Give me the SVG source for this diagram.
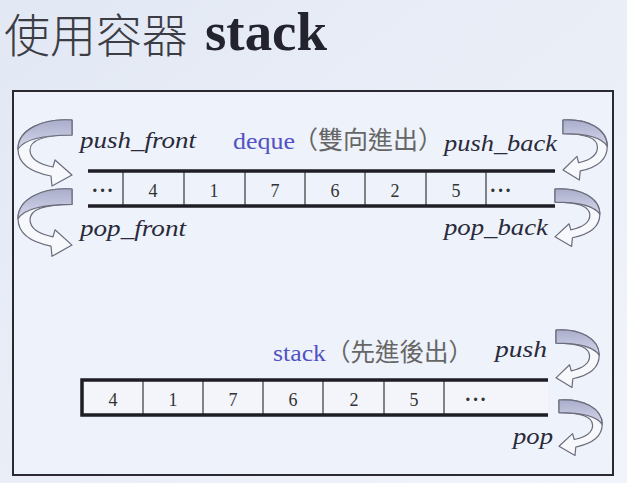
<svg xmlns="http://www.w3.org/2000/svg" xmlns:xlink="http://www.w3.org/1999/xlink" width="627" height="483" viewBox="0 0 627 483">
<defs>
<linearGradient id="bg" x1="0" y1="0" x2="1" y2="1">
<stop offset="0" stop-color="#e2e8f4"/>
<stop offset="1" stop-color="#f1f4fa"/>
</linearGradient>
<linearGradient id="face" x1="0" y1="0" x2="0" y2="1">
<stop offset="0" stop-color="#a9adcb"/>
<stop offset="1" stop-color="#d6d8ea"/>
</linearGradient>
<g id="ribbon">
<path d="M0,0 C-30,-2 -54,10 -54,29 C-54,43 -42,52 -21,56 L-20,66 L0,55 L-17,40 L-19,47 C-34,44 -42,38 -42,30 C-42,20 -28,15 0,15 Z" fill="#f7f8fc" stroke="#6b6c7c" stroke-width="1.2" vector-effect="non-scaling-stroke" stroke-linejoin="round"/>
<path d="M0,0 C-30,-2 -54,10 -54,29 C-48,20 -30,15 0,15 Z" fill="url(#face)" stroke="#6b6c7c" stroke-width="1.2" vector-effect="non-scaling-stroke" stroke-linejoin="round"/>
</g>
</defs>
<style>
.lbl{font-family:"Liberation Serif","Times New Roman",serif;font-style:italic;font-size:23px;fill:#2a2a3a}
.num{font-family:"Liberation Serif","Times New Roman",serif;font-size:18px;fill:#333;text-anchor:middle}
.dots{font-family:"Liberation Serif","Times New Roman",serif;font-size:20px;font-weight:bold;fill:#333;text-anchor:middle;letter-spacing:1px}
.name{font-family:"Liberation Serif","Times New Roman",serif;font-size:23px;fill:#5252c4}
.cjk{font-family:"Noto Sans CJK TC","Noto Sans CJK SC",sans-serif;fill:#666}
.rail{stroke:#1e1e24;stroke-width:3.5;fill:none}
.div{stroke:#444;stroke-width:1.3}
</style>
<rect x="0" y="0" width="627" height="483" fill="url(#bg)"/>
<g id="title">
<text x="4" y="52" font-family="'Noto Sans CJK TC','Noto Sans CJK SC',sans-serif" font-size="46" font-weight="300" fill="#3c3c44">使用容器</text>
<text x="205" y="50" font-family="'Liberation Serif','Times New Roman',serif" font-size="54" font-weight="bold" fill="#23232e" textLength="122" lengthAdjust="spacingAndGlyphs">stack</text>
</g>
<g id="frame">
<rect x="13" y="91" width="600" height="384" fill="#eef2fa" stroke="#2a2a30" stroke-width="2"/>
</g>
<g id="deque">
<rect x="88" y="171" width="467" height="35" fill="#eef2fa"/>
<line class="div" x1="123" y1="171" x2="123" y2="206"/>
<line class="div" x1="184" y1="171" x2="184" y2="206"/>
<line class="div" x1="245" y1="171" x2="245" y2="206"/>
<line class="div" x1="305" y1="171" x2="305" y2="206"/>
<line class="div" x1="365" y1="171" x2="365" y2="206"/>
<line class="div" x1="426" y1="171" x2="426" y2="206"/>
<line class="div" x1="486" y1="171" x2="486" y2="206"/>
<line class="rail" x1="88" y1="171" x2="555" y2="171"/>
<line class="rail" x1="88" y1="206" x2="555" y2="206"/>
<text class="dots" x="103" y="197">···</text>
<text class="num" x="153" y="197">4</text>
<text class="num" x="214" y="197">1</text>
<text class="num" x="275" y="197">7</text>
<text class="num" x="335" y="197">6</text>
<text class="num" x="395" y="197">2</text>
<text class="num" x="456" y="197">5</text>
<text class="dots" x="501" y="197">···</text>
<text x="233" y="149"><tspan class="name" textLength="62" lengthAdjust="spacingAndGlyphs">deque</tspan><tspan class="cjk" font-size="25" x="293" y="149">（雙向進出）</tspan></text>
</g>
<g id="stack">
<rect x="82" y="380" width="466" height="35" fill="#f3f5fb"/>
<line class="div" x1="143" y1="380" x2="143" y2="415"/>
<line class="div" x1="203" y1="380" x2="203" y2="415"/>
<line class="div" x1="263" y1="380" x2="263" y2="415"/>
<line class="div" x1="323" y1="380" x2="323" y2="415"/>
<line class="div" x1="384" y1="380" x2="384" y2="415"/>
<line class="div" x1="444" y1="380" x2="444" y2="415"/>
<path class="rail" d="M548,380 H82 V415 H548"/>
<text class="num" x="113" y="406">4</text>
<text class="num" x="173" y="406">1</text>
<text class="num" x="233" y="406">7</text>
<text class="num" x="293" y="406">6</text>
<text class="num" x="354" y="406">2</text>
<text class="num" x="414" y="406">5</text>
<text class="dots" x="476" y="406">···</text>
<text x="273" y="361"><tspan class="name" textLength="53" lengthAdjust="spacingAndGlyphs">stack</tspan><tspan class="cjk" font-size="24.5" x="326" y="361">（先進後出）</tspan></text>
</g>
<g id="labels">
<text class="lbl" x="80" y="148" textLength="116" lengthAdjust="spacingAndGlyphs">push_front</text>
<text class="lbl" x="80" y="236" textLength="106" lengthAdjust="spacingAndGlyphs">pop_front</text>
<text class="lbl" x="444" y="151" textLength="113" lengthAdjust="spacingAndGlyphs">push_back</text>
<text class="lbl" x="444" y="235" textLength="104" lengthAdjust="spacingAndGlyphs">pop_back</text>
<text class="lbl" x="495" y="357" textLength="52" lengthAdjust="spacingAndGlyphs">push</text>
<text class="lbl" x="513" y="444" textLength="40" lengthAdjust="spacingAndGlyphs">pop</text>
</g>
<g id="connectors">
<use xlink:href="#ribbon" transform="translate(72,120)"/>
<use xlink:href="#ribbon" transform="translate(72,189) scale(1,1.02)"/>
<use xlink:href="#ribbon" transform="translate(563,120) scale(-0.82,0.91)"/>
<use xlink:href="#ribbon" transform="translate(555,189) scale(-0.83,0.87)"/>
<use xlink:href="#ribbon" transform="translate(556,330) scale(-0.8,0.87)"/>
<use xlink:href="#ribbon" transform="translate(559,400) scale(-0.8,0.84)"/>
</g>
</svg>
